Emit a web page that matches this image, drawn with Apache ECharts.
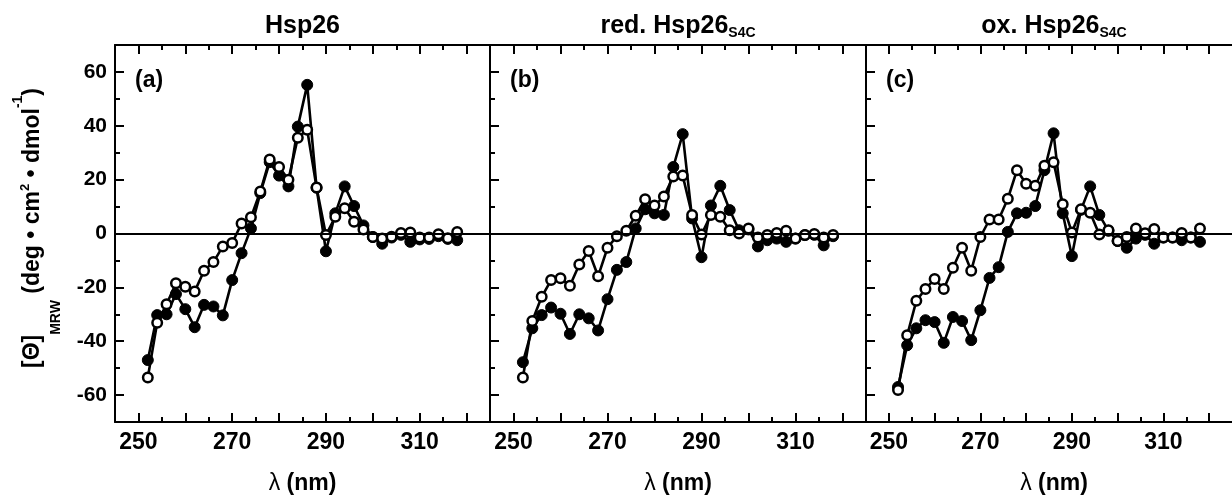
<!DOCTYPE html>
<html>
<head>
<meta charset="utf-8">
<script src="https://cdn.jsdelivr.net/npm/echarts@6/dist/echarts.min.js"></script>
<style>
html,body{margin:0;padding:0;background:#fff;}
#chart{width:1232px;height:497px;}
</style>
</head>
<body>
<div id="chart"></div>
<script>
// ---- data ----
const wavelengths = [252,254,256,258,260,262,264,266,268,270,272,274,276,278,280,282,284,286,288,290,292,294,296,298,300,302,304,306,308,310,312,314,316,318];

const hsp26Filled = [-47,-30.3,-30,-22.5,-28.1,-34.8,-26.5,-27.1,-30.4,-17.3,-7.3,1.9,15,26.5,21.5,17.5,39.7,55.2,17,-6.6,7.5,17.5,10.2,3,-1.3,-3.8,-1.5,-0.5,-3.1,-2.2,-2,-1,-2,-2.5];
const hsp26Open   = [-53.5,-33.1,-26.3,-18.5,-19.8,-21.5,-13.8,-10.6,-4.8,-3.5,3.7,6,15.6,27.5,24.7,20,35.6,38.5,17.1,-0.6,6.2,9.4,4.4,1.5,-1.3,-1.9,-1.2,0.2,0.4,-1.5,-1.5,-0.3,-1.8,0.6];

const redFilled = [-47.8,-35.2,-30.3,-27.5,-29.8,-37.3,-30,-31.5,-36,-24.4,-13.5,-10.6,1.9,9,7.5,6.9,24.7,36.9,5.6,-8.8,10.4,17.7,8.7,1.2,1.5,-4.8,-2.5,-1.9,-3.1,-1.9,-0.6,-0.5,-4.4,-1];
const redOpen   = [-53.5,-32.5,-23.5,-17.3,-16.6,-19.4,-11.5,-6.5,-15.9,-5.3,-1,1,6.6,12.7,10.4,13.7,21.2,21.5,6.9,-0.4,6.9,6.2,1.2,0,1.9,-1.5,-0.6,0.2,1,-1.9,-0.6,-0.2,-1.5,-0.6];

const oxFilled = [-57,-41.5,-35.2,-32.2,-32.9,-40.6,-31,-32.5,-39.6,-28.5,-16.5,-12.5,0.6,7.5,7.7,10.2,23.5,37.2,7.5,-8.4,8.8,17.5,6.9,1,-2.8,-5.3,-1.9,-0.5,-3.8,-1.5,-1.5,-2.5,-1.5,-3.1];
const oxOpen   = [-58.1,-37.8,-25,-20.6,-16.9,-20.6,-12.7,-5.3,-13.8,-1.3,5.2,5.2,12.9,23.5,18.5,17.7,25.2,26.5,10.9,0.4,9,7.7,-0.4,1.2,-2.8,-1.3,1.9,0.1,1.7,-1.5,-1.5,0.2,-1.5,1.9];

const panelTitles = ['Hsp26', 'red. Hsp26{s|S4C}', 'ox. Hsp26{s|S4C}'];
const panelTags = ['(a)', '(b)', '(c)'];

const xMajorTicks = [250,260,270,280,290,300,310,320];
const xMinorTicks = [255,265,275,285,295,305,315];
const xTickLabels = [250,270,290,310];
const yMajorTicks = [-60,-40,-20,0,20,40,60];
const yMinorTicks = [-50,-30,-10,10,30,50];
const yTickLabels = [-60,-40,-20,0,20,40,60];

// ---- layout ----
const FONT = "'Liberation Sans', Arial, Helvetica, sans-serif";
const panels = [
  {left:115, width:375, filled:hsp26Filled, open:hsp26Open},
  {left:490, width:376, filled:redFilled, open:redOpen},
  {left:866, width:376, filled:oxFilled, open:oxOpen}
];
const TOP = 45, HEIGHT = 377;
const X_MIN = 245, X_MAX = 325, Y_MIN = -70, Y_MAX = 70;

const grids = [], xAxes = [], yAxes = [], series = [], graphics = [];
const black = '#000';

function xAxisDef(gi, position, ticks, len, showLine, labels) {
  return {
    gridIndex: gi, type: 'value', position: position, min: X_MIN, max: X_MAX,
    axisLine: {show: showLine, onZero: false, lineStyle: {color: black, width: 2}},
    axisTick: {show: true, inside: true, length: len, customValues: ticks, lineStyle: {color: black, width: 2}},
    axisLabel: labels ? {show: true, customValues: labels, color: black, fontSize: 23, fontWeight: 'bold', fontFamily: FONT, margin: 9}
                      : {show: false},
    splitLine: {show: false}
  };
}
function yAxisDef(gi, ticks, len, showLine, labels) {
  return {
    gridIndex: gi, type: 'value', position: 'left', min: Y_MIN, max: Y_MAX,
    axisLine: {show: showLine, onZero: false, lineStyle: {color: black, width: 2}},
    axisTick: {show: true, inside: true, length: len, customValues: ticks, lineStyle: {color: black, width: 2}},
    axisLabel: labels ? {show: true, customValues: labels, color: black, fontSize: 21, fontWeight: 'bold', fontFamily: FONT, margin: 8}
                      : {show: false},
    splitLine: {show: false}
  };
}

panels.forEach((p, i) => {
  grids.push({left: p.left, top: TOP, width: p.width, height: HEIGHT, containLabel: false});
  const xBase = xAxes.length;
  xAxes.push(xAxisDef(i, 'bottom', xMajorTicks, 9, true, xTickLabels));
  xAxes.push(xAxisDef(i, 'bottom', xMinorTicks, 5, false, null));
  xAxes.push(xAxisDef(i, 'top', xMajorTicks, 9, true, null));
  xAxes.push(xAxisDef(i, 'top', xMinorTicks, 5, false, null));
  const yBase = yAxes.length;
  yAxes.push(yAxisDef(i, yMajorTicks, 9, true, i === 0 ? yTickLabels : null));
  yAxes.push(yAxisDef(i, yMinorTicks, 5, false, null));

  series.push({
    type: 'line', xAxisIndex: xBase, yAxisIndex: yBase,
    data: wavelengths.map((w, k) => [w, p.filled[k]]),
    symbol: 'circle', symbolSize: 11, showAllSymbol: true,
    itemStyle: {color: black, borderColor: black, borderWidth: 1},
    lineStyle: {color: black, width: 2.6},
    z: 3, silent: true,
    markLine: {
      silent: true, symbol: 'none', label: {show: false},
      lineStyle: {color: black, width: 2, type: 'solid'},
      data: [{yAxis: 0}]
    }
  });
  series.push({
    type: 'line', xAxisIndex: xBase, yAxisIndex: yBase,
    data: wavelengths.map((w, k) => [w, p.open[k]]),
    symbol: 'circle', symbolSize: 9.5, showAllSymbol: true,
    itemStyle: {color: '#fff', borderColor: black, borderWidth: 2.5},
    lineStyle: {color: black, width: 2.6},
    z: 4, silent: true
  });

  const cx = p.left + p.width / 2;
  graphics.push({
    type: 'text', x: cx, y: 26, silent: true,
    style: {
      text: panelTitles[i], align: 'center', verticalAlign: 'middle',
      fontSize: 25, fontWeight: 'bold', fontFamily: FONT, fill: black,
      rich: {s: {fontSize: 14, fontWeight: 'bold', fontFamily: FONT, fill: black, padding: [14, 0, 0, 0]}}
    }
  });
  graphics.push({
    type: 'text', x: p.left + 20, y: 81, silent: true,
    style: {text: panelTags[i], align: 'left', verticalAlign: 'middle',
      fontSize: 23, fontWeight: 'bold', fontFamily: FONT, fill: black}
  });
  graphics.push({
    type: 'text', x: cx, y: 484, silent: true,
    style: {
      text: '{l|λ}{n| (nm)}', align: 'center', verticalAlign: 'middle',
      rich: {
        l: {fontSize: 23, fontWeight: 'normal', fontFamily: FONT, fill: black},
        n: {fontSize: 23, fontWeight: 'bold', fontFamily: FONT, fill: black}
      }
    }
  });
});

// y-axis title
graphics.push({
  type: 'text', x: 33, y: 228, rotation: Math.PI / 2, silent: true,
  style: {
    text: '{m|[Θ]}{sub|MRW}{m| (deg • cm}{sup|2}{m| • dmol}{sup2|-1}{m|)}',
    align: 'center', verticalAlign: 'middle',
    rich: {
      m: {fontSize: 23, fontWeight: 'bold', fontFamily: FONT, fill: black},
      sub: {fontSize: 14, fontWeight: 'bold', fontFamily: FONT, fill: black, padding: [46, 0, 0, 0]},
      sup: {fontSize: 13, fontWeight: 'bold', fontFamily: FONT, fill: black, padding: [0, 0, 16, 0]},
      sup2: {fontSize: 14, fontWeight: 'bold', fontFamily: FONT, fill: black, padding: [0, 0, 30, 0]}
    }
  }
});

const chart = echarts.init(document.getElementById('chart'), null, {renderer: 'canvas'});
chart.setOption({
  animation: false,
  backgroundColor: '#fff',
  grid: grids,
  xAxis: xAxes,
  yAxis: yAxes,
  series: series,
  graphic: graphics
});
</script>
</body>
</html>
